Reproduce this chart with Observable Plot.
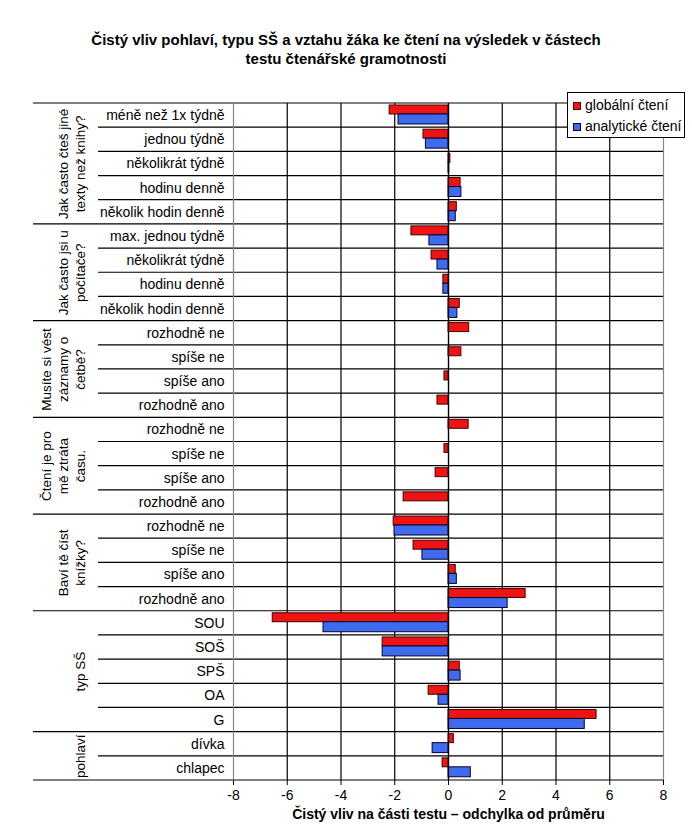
<!DOCTYPE html>
<html><head><meta charset="utf-8">
<script src="https://cdn.jsdelivr.net/npm/d3@7"></script>
<script src="https://cdn.jsdelivr.net/npm/@observablehq/plot@0.6"></script>
<style>
body{margin:0;background:#fff;font-family:"Liberation Sans",Arial,sans-serif;}
#wrap{position:relative;width:692px;height:836px;overflow:hidden;}
#title{position:absolute;top:30px;left:0;width:692px;text-align:center;font-weight:bold;font-size:15px;line-height:19px;color:#000;}
#chart{position:absolute;top:90px;left:0;}
#legend{position:absolute;left:567px;top:92px;width:116px;height:44px;border:1px solid #000;background:#fff;font-size:14px;color:#000;}
#legend .it{height:21px;line-height:21px;display:flex;align-items:center;white-space:nowrap;}
#legend .it:first-child{margin-top:2px;}
#legend .sw{display:inline-block;width:6px;height:6px;border:1px solid #000;margin-left:5px;margin-right:4px;flex:none;}
</style></head>
<body>
<div id="wrap">
<div id="title">Čistý vliv pohlaví, typu SŠ a vztahu žáka ke čtení na výsledek v částech<br>testu čtenářské gramotnosti</div>
<div id="chart"></div>
<div id="legend">
<div class="it"><span class="sw" style="background:#ee1414;border-color:#500"></span>globální čtení</div>
<div class="it"><span class="sw" style="background:#3f6bef;border-color:#002"></span>analytické čtení</div>
</div>
</div>
<script>
const groupLabels = [
  "Jak často čteš jiné\ntexty než knihy?",
  "Jak často jsi u\npočítače?",
  "Musíte si vést\nzáznamy o\nčetbě?",
  "Čtení je pro\nmě ztráta\nčasu.",
  "Baví tě číst\nknížky?",
  "typ SŠ",
  "pohlaví"
];
const groupSizes = [5, 4, 4, 4, 4, 5, 2];
const rowLabels = [
  "méně než 1x týdně","jednou týdně","několikrát týdně","hodinu denně","několik hodin denně",
  "max. jednou týdně","několikrát týdně","hodinu denně","několik hodin denně",
  "rozhodně ne","spíše ne","spíše ano","rozhodně ano",
  "rozhodně ne","spíše ne","spíše ano","rozhodně ano",
  "rozhodně ne","spíše ne","spíše ano","rozhodně ano",
  "SOU","SOŠ","SPŠ","OA","G",
  "dívka","chlapec"
];
const globalni = [
  -2.19,-0.93,0.07,0.45,0.31,
  -1.38,-0.63,-0.19,0.42,
  0.77,0.48,-0.15,-0.41,
  0.75,-0.15,-0.48,-1.67,
  -2.04,-1.30,0.27,2.87,
  -6.54,-2.45,0.42,-0.74,5.51,
  0.20,-0.22
];
const analyticke = [
  -1.86,-0.84,0.03,0.48,0.27,
  -0.71,-0.41,-0.19,0.33,
  null,null,null,null,
  null,null,null,null,
  -2.01,-0.97,0.31,2.20,
  -4.65,-2.45,0.45,-0.37,5.07,
  -0.59,0.83
];
const xTicks = [-8,-6,-4,-2,0,2,4,6,8];

const rows = rowLabels.map((label, i) => ({i, label, g: globalni[i], a: analyticke[i]}));
const bounds = [0];
groupSizes.forEach(n => bounds.push(bounds[bounds.length-1] + n));
const groups = groupLabels.map((label, k) => ({label, mid: (bounds[k] + bounds[k+1]) / 2}));

const RED = "#ee1414", BLUE = "#3f6bef";

const plot = Plot.plot({
  width: 692, height: 746,
  marginTop: 13, marginBottom: 56, marginLeft: 233, marginRight: 29,
  style: {fontFamily: '"Liberation Sans", Arial, sans-serif', fontSize: "14px", color: "#000", background: "#fff", overflow: "visible"},
  x: {domain: [-8, 8], axis: null},
  y: {domain: [0, 28], reverse: true, axis: null},
  marks: [
    Plot.ruleX(xTicks.filter(t => t > -8 && t < 8), {stroke: "#000", strokeWidth: 1.2}),
    Plot.ruleX([-8, 8], {stroke: "#888", strokeWidth: 1.2}),
    Plot.rect(rows, {x1: 0, x2: "g", y1: d => d.i, y2: d => d.i + 1, insetTop: 2, insetBottom: 13.2, fill: RED, stroke: "#4a0000", strokeWidth: 1}),
    Plot.rect(rows.filter(d => d.a != null), {x1: 0, x2: "a", y1: d => d.i, y2: d => d.i + 1, insetTop: 11, insetBottom: 3.2, fill: BLUE, stroke: "#000033", strokeWidth: 1}),
    Plot.ruleX([0], {stroke: "#000", strokeWidth: 1.2}),
    Plot.text(rows, {y: d => d.i + 0.5, text: "label", frameAnchor: "left", dx: -9, textAnchor: "end", fontSize: 14, fill: "#000"}),
    Plot.text(groups, {y: "mid", text: "label", frameAnchor: "left", dx: -149, rotate: -90, lineAnchor: "bottom", textAnchor: "middle", fontSize: 13.5, lineHeight: 1.25, fill: "#000"}),
    Plot.axisX({ticks: xTicks, tickSize: 5, tickPadding: 5, fontSize: 14, label: null, tickFormat: d => d < 0 ? "-" + Math.abs(d) : String(d)}),
    Plot.text(["Čistý vliv na části testu – odchylka od průměru"], {text: d => d, frameAnchor: "bottom", dy: 38, fontWeight: "bold", fontSize: 14, fill: "#000"})
  ]
});

// horizontal row / group separators, positioned via the plot's own scales
const ys = plot.scale("y"), xs = plot.scale("x");
const svg = d3.select(plot);
const gLines = svg.insert("g", "g");
const xRight = xs.apply(8);
for (let k = 0; k <= 28; k++) {
  const isBound = bounds.includes(k);
  const y = ys.apply(k);
  gLines.append("line")
    .attr("x1", isBound ? 33 : 98).attr("x2", xRight)
    .attr("y1", y).attr("y2", y)
    .attr("stroke", "#000").attr("stroke-width", 1.2);
}
document.getElementById("chart").appendChild(plot);
</script>
</body></html>
